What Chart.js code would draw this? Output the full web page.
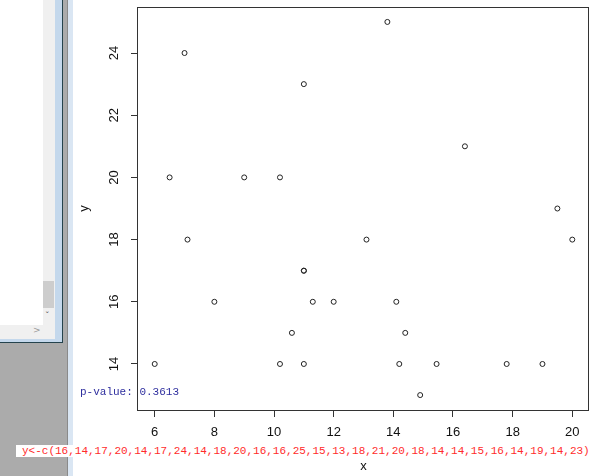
<!DOCTYPE html>
<html lang="en">
<head>
  <meta charset="UTF-8">
  <title>scatter x y</title>
  <script src="https://cdn.jsdelivr.net/npm/chart.js"></script>
  <style>
    html, body { margin: 0; padding: 0; width: 600px; height: 476px; overflow: hidden; background: #fff; }
    .abs { position: absolute; }
    #gray { left: 0; top: 0; width: 68px; height: 476px; background: #ababab; }
    #win { left: 0; top: 0; width: 62px; height: 342px; background: #c4d8ec; border-right: 1px solid #24434d; border-bottom: 1px solid #24434d; }
    #pane { left: 0; top: 0; width: 43px; height: 325px; background: #fff; }
    #vbar { left: 43px; top: 0; width: 12px; height: 325px; background: #f0f0f0; }
    #thumb { left: 0; top: 281px; width: 11px; height: 27px; background: #cdcdcd; }
    #hbar { left: 0; top: 325px; width: 55px; height: 14px; background: #f0f0f0; font: 9px "DejaVu Sans", sans-serif; color: #999; }
    #line { left: 67px; top: 0; width: 1px; height: 476px; background: #8a8a8a; }
    #strip { left: 68px; top: 0; width: 5px; height: 476px; background: #dae6f3; }
    #plot { left: 73px; top: 0; width: 527px; height: 476px; background: #fff; }
    #pval { left: 80px; top: 386px; font: 11px "Liberation Mono", monospace; color: #2e2e9e; white-space: pre; }
    #code { left: 16px; top: 445px; padding: 0 4px 0 6px; height: 12px; line-height: 12px; background: #fff; font: 11px "Liberation Mono", monospace; color: #ff2b2b; white-space: pre; }
  </style>
</head>
<body>
  <div id="gray" class="abs"></div>
  <div id="win" class="abs">
    <div id="pane" class="abs"></div>
    <div id="vbar" class="abs">
      <div id="thumb" class="abs"></div>
      <div class="abs" style="left:2px;top:311px;font:9px 'DejaVu Sans',sans-serif;color:#555;">&#711;</div>
    </div>
    <div id="hbar" class="abs"><span class="abs" style="left:33px;top:0;">&gt;</span></div>
  </div>
  <div id="line" class="abs"></div>
  <div id="strip" class="abs"></div>
  <div id="plot" class="abs"><canvas id="scatter"></canvas></div>
  <div id="pval" class="abs">p-value: 0.3613</div>
  <div id="code" class="abs">y&lt;-c(16,14,17,20,14,17,24,14,18,20,16,16,25,15,13,18,21,20,18,14,14,15,16,14,19,14,23)</div>
<script>
// values
const xValues = [8, 6, 11, 6.5, 10.2, 11, 7, 11, 7.1, 9, 11.3, 12, 13.8, 10.6, 14.9, 13.1, 16.4, 10.2, 20, 14.2, 15.45, 14.4, 14.1, 17.8, 19.5, 19, 11];
const yValues = [16, 14, 17, 20, 14, 17, 24, 14, 18, 20, 16, 16, 25, 15, 13, 18, 21, 20, 18, 14, 14, 15, 16, 14, 19, 14, 23];
const xTicks = [6, 8, 10, 12, 14, 16, 18, 20];
const yTicks = [14, 16, 18, 20, 22, 24];

// R style axis limits: data range widened by 4% on each side
function rRange(vals) {
  const lo = Math.min(...vals), hi = Math.max(...vals), d = (hi - lo) * 0.04;
  return [lo - d, hi + d];
}
const [xMin, xMax] = rRange(xValues);
const [yMin, yMax] = rRange(yValues);

const points = xValues.map((x, i) => ({ x: x, y: yValues[i] }));

// box around the plot region (R's box())
const boxPlugin = {
  id: 'box',
  afterDraw(chart) {
    const a = chart.chartArea, ctx = chart.ctx;
    ctx.save();
    ctx.strokeStyle = '#333';
    ctx.lineWidth = 1;
    ctx.strokeRect(Math.round(a.left) - 0.5, Math.round(a.top) + 0.5,
      Math.round(a.right - a.left), Math.round(a.bottom - a.top));
    ctx.restore();
  }
};

const tickFont = { family: '"Liberation Sans", Arial, sans-serif', size: 13 };

new Chart(document.getElementById('scatter'), {
  type: 'scatter',
  data: {
    datasets: [{
      data: points,
      pointStyle: 'circle',
      pointRadius: 2.5,
      pointHoverRadius: 2.5,
      borderWidth: 1,
      borderColor: '#222',
      backgroundColor: 'rgba(255,255,255,0)'
    }]
  },
  options: {
    responsive: true,
    maintainAspectRatio: false,
    animation: false,
    events: [],
    layout: { padding: { top: 7, right: 11, bottom: 0, left: 0 } },
    plugins: { legend: { display: false }, tooltip: { enabled: false } },
    scales: {
      x: {
        type: 'linear',
        min: xMin,
        max: xMax,
        afterBuildTicks: s => { s.ticks = xTicks.map(v => ({ value: v })); },
        afterFit: s => { s.height = 66; s.paddingLeft = 0; s.paddingRight = 0; },
        border: { display: false },
        grid: { drawOnChartArea: false, drawTicks: true, tickLength: 7, color: '#333' },
        ticks: { font: tickFont, color: '#111', padding: 8, maxRotation: 0, minRotation: 0 },
        title: { display: true, text: 'x', font: tickFont, color: '#111', padding: { top: 0, bottom: 2 } }
      },
      y: {
        type: 'linear',
        min: yMin,
        max: yMax,
        afterBuildTicks: s => { s.ticks = yTicks.map(v => ({ value: v })); },
        afterFit: s => { s.width = 65; s.paddingTop = 0; s.paddingBottom = 0; },
        border: { display: false },
        grid: { drawOnChartArea: false, drawTicks: true, tickLength: 7, color: '#333' },
        ticks: { font: tickFont, color: '#111', padding: 9, minRotation: 90, maxRotation: 90, crossAlign: 'center' },
        title: { display: true, text: 'y', font: tickFont, color: '#111', padding: { top: 4, bottom: 0 } }
      }
    }
  },
  plugins: [boxPlugin]
});
</script>
</body>
</html>
